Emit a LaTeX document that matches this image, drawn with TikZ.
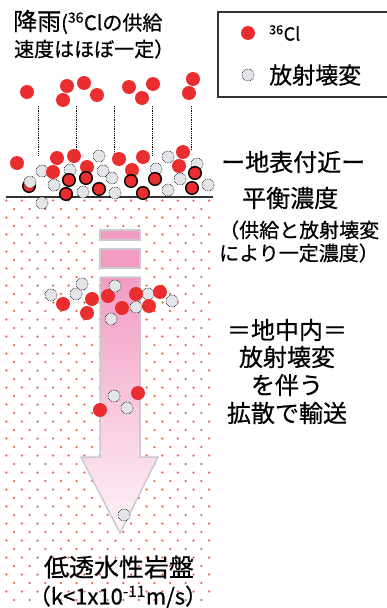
\documentclass[tikz,border=0pt]{standalone}
\usepackage{fontspec}
\setmainfont{Noto Sans CJK JP}[FakeBold=0.6]
\definecolor{clred}{RGB}{234,46,48}
\definecolor{decaygray}{RGB}{228,229,232}
\definecolor{dotred}{RGB}{224,104,70}
\definecolor{arrowtop}{RGB}{242,155,195}
\definecolor{arrowtip}{RGB}{254,244,249}
\definecolor{arrowrim}{RGB}{201,201,207}
\definecolor{rimgray}{RGB}{50,50,50}
\tikzset{
  cl36/.style={circle, fill=clred, inner sep=0pt, minimum size=14pt},
  cl36edge/.style={cl36, draw=black, line width=1.4pt, minimum size=12.6pt},
  decayed/.style={circle, fill=decaygray, draw=black, densely dotted, line width=0.6pt, inner sep=0pt, minimum size=12pt},
  jtext/.style={inner sep=0pt, anchor=west},
  bigfont/.style={font=\fontsize{24}{24}\selectfont},
  smallfont/.style={font=\fontsize{20}{20}\selectfont},
}
\begin{document}
\begin{tikzpicture}[x=1pt, y=-1pt]
  \useasboundingbox (0,0) rectangle (387,608);
  % Paths, nodes and wires:
  % rock texture below the surface
  \foreach \k in {0,...,47}{
    \pgfmathsetmacro\gy{200.5+8.5*\k}
    \pgfmathsetmacro\gx{mod(\k,2)==0 ? 6.3 : 14.1}
    \pgfmathtruncatemacro\nj{mod(\k,2)==0 ? 13 : 12}
    \foreach \j in {0,...,\nj}
      \fill[dotred] (\gx+15.6*\j,\gy) circle (1.25pt);
  }
  \draw[line width=1.6pt, rimgray] (6,197) -- (213,197);
  % rain trails
  \foreach \x/\y in {38/155, 76/153, 114/153, 152/155, 191/150}
    \draw[densely dotted, line width=0.8pt] (\x,106) -- (\x,\y);
  % transport arrow
  \fill[white] (100,230) rectangle (140,277);
  \filldraw[fill=arrowtop, draw=arrowrim, line width=1.5pt] (100,230) rectangle (140,240);
  \filldraw[fill=arrowtop, draw=arrowrim, line width=1.5pt] (100,249) rectangle (140,268);
  \shadedraw[top color=arrowtop, bottom color=arrowtip, draw=arrowrim, line width=1.5pt]
    (100,277) -- (140,277) -- (140,457) -- (158,457) -- (120,533) -- (81,457) -- (100,457) -- cycle;
  % rain
  \foreach \x/\y [count=\i] in {27/92, 67/86, 63/100, 84/83, 97/95, 129/87, 142/98, 153/84, 193/79, 189/93}
    \node[cl36] (rain\i) at (\x,\y) {};
  % near the surface
  \node[cl36edge] (surfA) at (29,186) {};
  \foreach \x/\y [count=\i] in {42/171, 30/182, 54/185, 70/170, 99/156, 103/171, 112/178, 83/192, 115/193, 156/169, 168/157, 180/179, 197/164, 208/185, 168/190, 42/203}
    \node[decayed] (surfd\i) at (\x,\y) {};
  \foreach \x/\y [count=\i] in {17/163, 57/158, 74/156, 53/172, 87/167, 119/159, 143/157, 132/170, 183/152, 179/166}
    \node[cl36] (surfc\i) at (\x,\y) {};
  \foreach \x/\y [count=\i] in {69/180, 86/178, 66/194, 99/189, 131/181, 155/179, 143/193, 195/173, 192/188}
    \node[cl36edge] (surfe\i) at (\x,\y) {};
  % underground
  \foreach \x/\y [count=\i] in {51/295, 76/294, 82/284, 111/319, 148/294, 172/301, 114/396, 127/408, 124/515}
    \node[decayed] (deepd\i) at (\x,\y) {};
  \foreach \x/\y [count=\i] in {63/304, 92/299, 87/313, 108/296, 122/308, 136/294, 149/306, 160/292, 138/393, 100/410}
    \node[cl36] (deepc\i) at (\x,\y) {};
  \node[decayed] (deepx) at (136,307) {};
  \node[decayed] (deepy) at (115,286) {};
  % legend
  \draw[line width=1.2pt, rimgray] (218,12) rectangle (395,97);
  \node[cl36] (keyc) at (248,33) {};
  \node[decayed] (keyd) at (248,75) {};
  \node[jtext, font=\fontsize{18}{18}\selectfont] (keyctext) at (269,33) {\textsuperscript{36}Cl};
  \node[jtext, font=\fontsize{23}{23}\selectfont] (keydtext) at (269,75) {放射壊変};
  % texts
  \node[jtext] (rainA) at (13,22) {{\fontsize{24}{24}\selectfont 降雨}{\fontsize{20}{20}\selectfont (\textsuperscript{36}Clの供給}};
  \node[jtext, smallfont] (rainB) at (14,49) {速度はほぼ一定）};
  \node[jtext, bigfont] (surface) at (221,162) {ー地表付近ー};
  \node[jtext, bigfont] (equil) at (242,198) {平衡濃度};
  \node[jtext, smallfont] (noteA) at (219,230) {（供給と放射壊変};
  \node[jtext, smallfont] (noteB) at (219,253) {により一定濃度）};
  \node[inner sep=0pt, bigfont] (deepA) at (287,330) {＝地中内＝};
  \node[inner sep=0pt, bigfont] (deepB) at (287,357) {放射壊変};
  \node[inner sep=0pt, bigfont] (deepC) at (287,385) {を伴う};
  \node[inner sep=0pt, bigfont] (deepD) at (287,413) {拡散で輸送};
  \node[inner sep=0pt, font=\fontsize{25}{25}\selectfont] (rock) at (119,567) {低透水性岩盤};
  \node[inner sep=0pt, font=\fontsize{22}{22}\selectfont] (perm) at (118,597) {（k<1x10\textsuperscript{-11}m/s）};
\end{tikzpicture}
\end{document}
